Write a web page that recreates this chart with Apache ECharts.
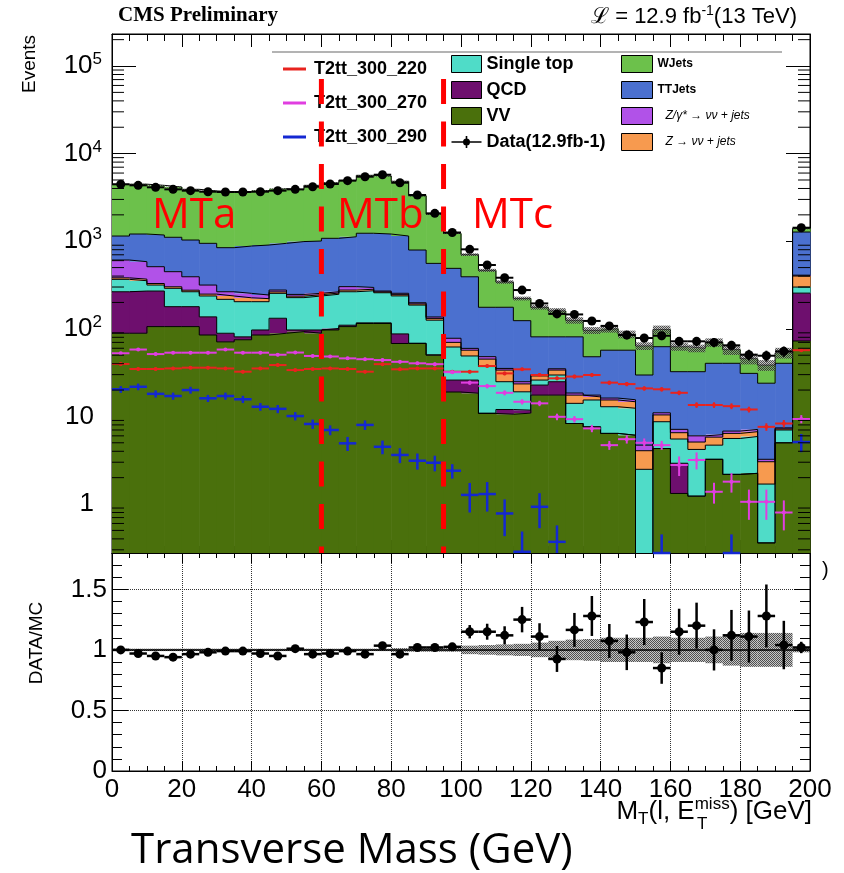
<!DOCTYPE html>
<html>
<head>
<meta charset="utf-8">
<script src="https://cdn.jsdelivr.net/npm/echarts@6.0.0/dist/echarts.min.js"></script>
<style>
html,body{margin:0;padding:0;background:#ffffff;}
#chart{width:844px;height:873px;}
</style>
</head>
<body>
<div id="chart"></div>
<script>
// ---------------- data ----------------
const binWidth = 5;
const binLow = [0,5,10,15,20,25,30,35,40,45,50,55,60,65,70,75,80,85,90,95,
                100,105,110,115,120,125,130,135,140,145,150,155,160,165,170,175,180,185,190,195];

// stacked backgrounds (events per bin), bottom to top
const vv = [89,89,106,106,106,85,71,75,85,89, 93,89,97,106,115,115,68,68,50,19,
            18.4,10.8,10.6,10.9,17.5,17.5,8.3,7.6,6.4,6.1, 0.02,4.3,1.32,1.23,3.24,2.18,2.24,0.36,5.0,72.6];
const qcd = [176,181,164,73,73,52,18,6,12,43, 4,8,4,4,2,2,19.5,0.5,0.5,7,
             7.6,0.1,1.4,0.9,5.3,7.4,0,0,0,0, 0,0,1.6,0,0,0,0,0,0,183];
const singleTop = [102,84,46,111,86,100,128,123,107,122, 130,140,147,155,155,141,150,118,75,36,
                   23,26.2,12.9,7.3,3.2,4.8,5.8,7.8,6.5,6.3, 2.47,4.4,2.6,2.97,1.46,3.42,3.66,1.33,2.0,44];
const zNuNu = [15,15,13,12,11,12,20,22,17,10, 9,8,8,12,11,6,8,6,6,8,
               8,8,8.9,4.4,3,4.1,3.4,1.3,2.5,2.3, 1.57,1.7,1.0,0.9,1.1,0.8,0.8,1.35,0.2,101];
const zGamma = [228,215,183,147,117,67,28,28,22,13, 11,9,9,26,14,6,9,6,5,8,
                2.8,3,1.5,1.4,1,1.2,1.0,0.8,0.8,0.8, 0.64,0.6,0.6,0.9,0.4,0.4,0.4,0.2,0.2,9];
const ttJets = [536,624,665,660,639,630,579,627,662,669, 744,751,814,822,936,938,892,595,422,412,
                333,128,141,99,51,46,62.5,30.5,40.8,41.5, 25,51.5,25.3,26.4,34.2,33.6,23.9,20.7,33,864];
const wJets = [3319,3271,3165,3051,2880,2804,2838,2801,2884,3028, 2884,3337,3558,3835,4417,4343,3678,2508,1480,736,
               310,289,166,98,95,79,44,48,43.5,29.7, 34,35.5,30,27.6,29.6,17.5,14.6,14.6,12.8,124];
// relative MC uncertainty (hatched band)
const mcUnc = [0.01,0.01,0.01,0.01,0.01,0.01,0.01,0.01,0.01,0.01, 0.01,0.01,0.01,0.01,0.01,0.01,0.015,0.015,0.015,0.015,
               0.035,0.04,0.045,0.05,0.06,0.075,0.085,0.09,0.1,0.1, 0.1,0.11,0.1,0.1,0.11,0.13,0.14,0.14,0.14,0.02];

// data
const dataVals = [4465,4345,4125,3910,3775,3675,3645,3645,3675,3775, 3910,4190,4498,4910,5450,5745,4655,3368,2080,1257,
                  808,535,383,277,195,148,146,123,108,85, 78.5,83.4,72,72,70,64.8,50.6,49.3,55.3,1426];
const dataErr = [67,66,64,63,61,61,60,60,61,61, 63,65,67,70,74,76,68,58,46,35,
                 28,23,20,17,14,12,12,11,10,9.2, 8.9,9.1,8.5,8.5,8.4,8,7.1,7,7.4,38];

// signals
const sigRed = [39.7,34.8,34.8,35.3,36,36,35.3,32.4,35.3,38.6, 33.8,34.8,35.3,34.8,32.4,39.5,34.5,35.3,35.3,32.4,
                32.4,37.6,31,34.5,29.7,27.2,28.5,29.7,24.3,23.4, 20.9,20.4,18.6,13.5,13.5,13.1,12,7.6,8.3,57];
const sigRedErr = [1.6,1.5,1.5,1.5,1.5,1.5,1.5,1.4,1.5,1.6, 1.5,1.5,1.5,1.5,1.4,1.6,1.5,1.5,1.5,1.4,
                   1.4,1.5,1.4,1.5,1.4,1.3,1.4,1.4,1.3,1.3, 1.2,1.2,1.1,1.0,1.0,1.0,0.9,0.75,0.8,2.0];
const sigMag = [52.6,58,51.5,53.4,53.4,53.4,58,53.4,53.4,50.6, 53.6,49,48.3,46,45,44,42,40.4,39.5,32,
                24.3,22.2,18.6,14.7,14.1,9.9,9.3,7.3,4.7,5.5, 5.0,4.7,2.79,3.18,1.38,1.8,1.06,1.06,0.8,9.35];
const sigMagErr = [2,2,2,2,2,2,2,2,2,2, 2,1.9,1.9,1.8,1.8,1.8,1.7,1.7,1.7,1.5,
                   1.3,1.3,1.2,1.0,1.0,0.85,0.8,0.7,0.55,0.6, 0.6,0.55,0.7,0.7,0.37,0.45,0.4,0.4,0.3,1.0];
const sigBlue = [20.4,21.8,18.1,17.1,20,16.1,17.1,15.7,12.9,12.2, 10.1,8.2,7.0,4.93,8.0,4.5,3.63,3.12,2.96,2.4,
                 1.27,1.3,0.78,0.285,0.93,0.37,0,0,0,0, 0,0.27,0,0,0,0.27,0,0,0,5.1];
const sigBlueErr = [1.8,1.9,1.7,1.6,1.8,1.5,1.6,1.5,1.3,1.3, 1.1,1.0,0.9,0.9,1.0,0.8,0.7,0.65,0.6,0.45,
                    0.47,0.48,0.35,0.2,0.4,0.2,0,0,0,0, 0,0.18,0,0,0,0.18,0,0,0,1.2];

// ratio panel
const ratio = [1.00,0.97,0.95,0.94,0.965,0.98,0.99,0.99,0.97,0.95, 1.01,0.965,0.97,0.99,0.965,1.035,0.965,1.02,1.02,1.025,
               1.15,1.15,1.12,1.25,1.11,0.925,1.165,1.28,1.074,0.98, 1.23,0.85,1.15,1.20,1.00,1.12,1.11,1.28,1.04,1.02];
const ratioErr = [0.015,0.015,0.016,0.016,0.016,0.017,0.017,0.017,0.017,0.016, 0.016,0.016,0.015,0.015,0.014,0.014,0.015,0.018,0.022,0.03,
                  0.055,0.066,0.075,0.105,0.11,0.107,0.14,0.165,0.14,0.147, 0.19,0.13,0.19,0.19,0.17,0.21,0.215,0.26,0.2,0.047];

// region boundaries (GeV) and labels
const regionCuts = [60, 95];
const regionLabels = ['MTa', 'MTb', 'MTc'];

// ---------------- helpers ----------------
const F = 'Liberation Sans';
const xMax = binLow[binLow.length - 1] + binWidth;
const yMinTop = 0.276, yMaxTop = 232000, cutTop = 71000;

function stepData(arr) {
  const d = binLow.map((x, i) => [x, arr[i]]);
  d.push([xMax, arr[arr.length - 1]]);
  return d;
}

const hatchCanvas = (function () {
  const c = document.createElement('canvas');
  c.width = 4; c.height = 4;
  const g = c.getContext('2d');
  for (let y = 0; y < 4; y++) for (let x = 0; x < 4; x++) {
    g.fillStyle = ((x + y) % 2 === 0) ? 'rgba(35,35,35,0.8)' : 'rgba(150,150,150,0.55)';
    g.fillRect(x, y, 1, 1);
  }
  return c;
})();
const hatchFill = { type: 'pattern', image: hatchCanvas, repeat: 'repeat' };

function crossRenderer(color, lineW, markerR) {
  return function (params, api) {
    const cs = params.coordSys;
    const top = cs.y, bot = cs.y + cs.height;
    const clampY = y => Math.min(bot, Math.max(top, y));
    const xc = api.value(0), v = api.value(1), e = api.value(2);
    const pc = api.coord([xc, v]);
    const xl = api.coord([xc - binWidth / 2, v])[0];
    const xr = api.coord([xc + binWidth / 2, v])[0];
    const yHi = api.coord([xc, v + e])[1];
    const yLo = (v - e) > 0 ? api.coord([xc, v - e])[1] : bot;
    const yc = clampY(pc[1]);
    const ch = [];
    ch.push({ type: 'line', shape: { x1: xl, y1: yc, x2: xr, y2: yc }, style: { stroke: color, lineWidth: lineW } });
    if (e > 0) ch.push({ type: 'line', shape: { x1: pc[0], y1: clampY(yHi), x2: pc[0], y2: clampY(yLo) }, style: { stroke: color, lineWidth: lineW } });
    if (markerR && pc[1] <= bot) ch.push({ type: 'circle', shape: { cx: pc[0], cy: yc, r: markerR }, style: { fill: color } });
    return { type: 'group', children: ch };
  };
}

function bandRenderer(params, api) {
  const cs = params.coordSys;
  const x0 = api.value(0), c = api.value(1), b = api.value(2);
  const p1 = api.coord([x0, c * (1 + b)]);
  const p2 = api.coord([x0 + binWidth, c * (1 - b)]);
  const y1 = Math.max(cs.y, p1[1]), y2 = Math.min(cs.y + cs.height, p2[1]);
  return { type: 'rect', shape: { x: p1[0], y: y1, width: p2[0] - p1[0], height: Math.max(0.8, y2 - y1) }, style: { fill: hatchFill } };
}

// filled histogram block between cumulative lower and upper values of one component
function fillRenderer(color) {
  return function (params, api) {
    const cs = params.coordSys;
    const x0 = api.value(0), lo = api.value(1), hi = api.value(2);
    if (!(hi > 0)) return null;
    const pHi = api.coord([x0, hi]);
    const pLo = api.coord([x0 + binWidth, Math.max(lo, 1e-4)]);
    const y1 = Math.max(cs.y, pHi[1]);
    const y2 = Math.min(cs.y + cs.height, pLo[1]);
    if (y2 - y1 <= 0) return null;
    return { type: 'rect', shape: { x: pHi[0], y: y1, width: pLo[0] - pHi[0] + 0.6, height: y2 - y1 }, style: { fill: color } };
  };
}

const logMinorTicks = [];
for (let p = -1; p <= 5; p++) for (let m = 2; m <= 9; m++) logMinorTicks.push([100, m * Math.pow(10, p)]);

function minorTickRenderer(params, api) {
  const cs = params.coordSys;
  const y = api.coord([api.value(0), api.value(1)])[1];
  if (y < cs.y || y > cs.y + cs.height) return null;
  return { type: 'group', children: [
    { type: 'line', shape: { x1: cs.x, y1: y, x2: cs.x + 12, y2: y }, style: { stroke: '#000', lineWidth: 1 } },
    { type: 'line', shape: { x1: cs.x + cs.width - 12, y1: y, x2: cs.x + cs.width, y2: y }, style: { stroke: '#000', lineWidth: 1 } }
  ] };
}

// ---------------- series ----------------
const stackDefs = [
  { name: 'VV', vals: vv, color: '#4a700c' },
  { name: 'QCD', vals: qcd, color: '#6e0f6e' },
  { name: 'Single top', vals: singleTop, color: '#4fdcc8' },
  { name: 'Z → νν + jets', vals: zNuNu, color: '#f79a4f' },
  { name: 'Z/γ* → νν + jets', vals: zGamma, color: '#b152e8' },
  { name: 'TTJets', vals: ttJets, color: '#4b70cf' },
  { name: 'WJets', vals: wJets, color: '#6cc14b' }
];
const colorOf = {};
stackDefs.forEach(d => colorOf[d.name] = d.color);

// stacking (cumulative sums of the components, bottom to top)
let running = binLow.map(() => 0);
stackDefs.forEach(d => {
  d.lo = running.slice();
  d.hi = running.map((v, i) => v + d.vals[i]);
  running = d.hi;
});
const mcTotal = running;

const series = [];
stackDefs.forEach(d => {
  series.push({
    type: 'custom', name: d.name, xAxisIndex: 0, yAxisIndex: 0, silent: true, z: 2,
    itemStyle: { color: d.color },
    renderItem: fillRenderer(d.color),
    data: binLow.map((x, i) => [x, d.lo[i], d.hi[i]])
  });
});
stackDefs.forEach(d => {
  series.push({
    type: 'line', name: d.name + ' outline', xAxisIndex: 0, yAxisIndex: 0, step: 'end',
    data: stepData(d.hi), symbol: 'none', showSymbol: false, silent: true,
    lineStyle: { width: 1, color: '#000' }, z: 3
  });
});
series.push({
  type: 'custom', name: 'MC uncertainty', xAxisIndex: 0, yAxisIndex: 0, silent: true, z: 4,
  renderItem: bandRenderer, data: binLow.map((x, i) => [x, mcTotal[i], mcUnc[i]])
});
const sigDefs = [
  { name: 'T2tt_300_220', vals: sigRed, err: sigRedErr, color: '#e8231e', w: 2, r: 2 },
  { name: 'T2tt_300_270', vals: sigMag, err: sigMagErr, color: '#e03ee0', w: 2, r: 2 },
  { name: 'T2tt_300_290', vals: sigBlue, err: sigBlueErr, color: '#1428d2', w: 2.5, r: 0 }
];
sigDefs.forEach(s => {
  series.push({
    type: 'custom', name: s.name, xAxisIndex: 0, yAxisIndex: 0, silent: true, z: 5,
    itemStyle: { color: s.color },
    renderItem: crossRenderer(s.color, s.w, s.r),
    data: binLow.map((x, i) => [x + binWidth / 2, s.vals[i], s.err[i]]).filter(p => p[1] > 0)
  });
});
series.push({
  type: 'custom', name: 'Data(12.9fb-1)', xAxisIndex: 0, yAxisIndex: 0, silent: true, z: 6,
  itemStyle: { color: '#000' },
  renderItem: crossRenderer('#000', 2, 4.5),
  data: binLow.map((x, i) => [x + binWidth / 2, dataVals[i], dataErr[i]])
});
series.push({
  type: 'custom', name: 'log minor ticks', xAxisIndex: 0, yAxisIndex: 0, silent: true, z: 7,
  renderItem: minorTickRenderer, data: logMinorTicks
});
regionCuts.forEach((c, k) => {
  series.push({
    type: 'line', name: 'cut' + k, xAxisIndex: 0, yAxisIndex: 0, silent: true, z: 20,
    data: [[c, cutTop], [c, yMinTop]], symbol: 'none',
    lineStyle: { color: '#ff0000', width: 5, type: [25, 17.5], cap: 'butt' }
  });
});
// ratio panel
series.push({
  type: 'custom', name: 'ratio band', xAxisIndex: 2, yAxisIndex: 2, silent: true, z: 3,
  renderItem: bandRenderer, data: binLow.map((x, i) => [x, 1, mcUnc[i]])
});
series.push({
  type: 'line', name: 'unity', xAxisIndex: 2, yAxisIndex: 2, silent: true, z: 4,
  data: [[0, 1], [xMax, 1]], symbol: 'none', lineStyle: { color: '#000', width: 1.5 }
});
series.push({
  type: 'custom', name: 'ratio points', xAxisIndex: 2, yAxisIndex: 2, silent: true, z: 5,
  renderItem: crossRenderer('#000', 2.5, 4.5),
  data: binLow.map((x, i) => [x + binWidth / 2, ratio[i], ratioErr[i]])
});

// ---------------- axes ----------------
const black = { color: '#000', width: 1 };
function xAx(grid, pos, showLabel, majorLen, minorLen, split) {
  return {
    gridIndex: grid, type: 'value', min: 0, max: xMax, interval: 20, position: pos,
    axisLine: { show: true, onZero: false, lineStyle: black },
    axisTick: { show: true, inside: true, length: majorLen, lineStyle: black },
    minorTick: { show: true, splitNumber: 4, length: minorLen, lineStyle: black },
    axisLabel: { show: showLabel, fontSize: 26, fontFamily: F, color: '#000', margin: 6 },
    splitLine: { show: split, lineStyle: { type: 'dotted', color: '#333', width: 1 } }
  };
}
function logLabel(v) {
  const e = Math.log10(v), r = Math.round(e);
  if (Math.abs(e - r) > 1e-6) return '';
  if (r === 0) return '{b|1}{pad|}';
  if (r === 1) return '{b|10}{pad|}';
  return '{b|10}{s|' + r + '}';
}
function yLog(pos, showLabel) {
  return {
    gridIndex: 0, type: 'log', logBase: 10, min: yMinTop, max: yMaxTop, position: pos,
    axisLine: { show: true, onZero: false, lineStyle: black },
    axisTick: { show: true, inside: true, length: 24, lineStyle: black },
    minorTick: { show: false },
    splitLine: { show: false },
    axisLabel: {
      show: showLabel, margin: 10, formatter: logLabel,
      rich: {
        b: { fontSize: 26, fontFamily: F, color: '#000', lineHeight: 30 },
        s: { fontSize: 17, fontFamily: F, color: '#000', lineHeight: 16, verticalAlign: 'top' },
        pad: { width: 8 }
      }
    }
  };
}
function yRatio(pos, showLabel) {
  return {
    gridIndex: 1, type: 'value', min: 0, max: 1.8, interval: 0.5, position: pos,
    axisLine: { show: true, onZero: false, lineStyle: black },
    axisTick: { show: true, inside: true, length: 16, lineStyle: black },
    minorTick: { show: true, splitNumber: 5, length: 10, lineStyle: black },
    splitLine: { show: showLabel, lineStyle: { type: 'dotted', color: '#333', width: 1 } },
    axisLabel: { show: showLabel, fontSize: 26, fontFamily: F, color: '#000', margin: 5, showMaxLabel: false }
  };
}

// ---------------- legend ----------------
const legendCommon = { orient: 'vertical', padding: 0, selectedMode: false, align: 'left' };
const legends = [
  Object.assign({}, legendCommon, {
    left: 283, top: 59, itemWidth: 23, itemHeight: 3, itemGap: 14,
    textStyle: { fontFamily: F, fontWeight: 'bold', fontSize: 18, color: '#000', lineHeight: 20, padding: [0, 0, 0, 3] },
    data: sigDefs.map(s => ({ name: s.name, icon: 'rect', itemStyle: { color: s.color, borderWidth: 0 } }))
  }),
  Object.assign({}, legendCommon, {
    left: 451, top: 54, itemWidth: 30, itemHeight: 17, itemGap: 6,
    textStyle: { fontFamily: F, fontWeight: 'bold', fontSize: 18, color: '#000', lineHeight: 20 },
    data: [
      { name: 'Single top', icon: 'rect', itemStyle: { color: colorOf['Single top'], borderColor: '#000', borderWidth: 1 } },
      { name: 'QCD', icon: 'rect', itemStyle: { color: colorOf['QCD'], borderColor: '#000', borderWidth: 1 } },
      { name: 'VV', icon: 'rect', itemStyle: { color: colorOf['VV'], borderColor: '#000', borderWidth: 1 } },
      { name: 'Data(12.9fb-1)', icon: 'path://M0,9.2L30,9.2L30,10.8L0,10.8Z M14.2,4L15.8,4L15.8,16L14.2,16Z M11.5,10A3.5,3.5 0 1 1 18.5,10A3.5,3.5 0 1 1 11.5,10Z', itemStyle: { color: '#000', borderWidth: 0 } }
    ]
  }),
  Object.assign({}, legendCommon, {
    left: 621, top: 54, itemWidth: 31, itemHeight: 17, itemGap: 6,
    textStyle: { fontFamily: F, fontWeight: 'bold', fontSize: 12, color: '#000', lineHeight: 20 },
    data: [
      { name: 'WJets', icon: 'rect', itemStyle: { color: colorOf['WJets'], borderColor: '#000', borderWidth: 1 } },
      { name: 'TTJets', icon: 'rect', itemStyle: { color: colorOf['TTJets'], borderColor: '#000', borderWidth: 1 } },
      { name: 'Z/γ* → νν + jets', icon: 'rect', itemStyle: { color: colorOf['Z/γ* → νν + jets'], borderColor: '#000', borderWidth: 1 },
        textStyle: { fontStyle: 'italic', fontWeight: 'normal', fontSize: 12, padding: [0, 0, 0, 8] } },
      { name: 'Z → νν + jets', icon: 'rect', itemStyle: { color: colorOf['Z → νν + jets'], borderColor: '#000', borderWidth: 1 },
        textStyle: { fontStyle: 'italic', fontWeight: 'normal', fontSize: 12, padding: [0, 0, 0, 8] } }
    ]
  })
];

// ---------------- texts ----------------
const graphics = [
  { type: 'line', z: 1, shape: { x1: 272, y1: 52, x2: 782, y2: 52 }, style: { stroke: '#9a9a9a', lineWidth: 1.5 } },
  { type: 'text', x: 118, y: 16, style: { text: 'CMS Preliminary', font: 'bold 21px "Liberation Serif"', fill: '#000', verticalAlign: 'middle' } },
  { type: 'text', x: 797, y: 17, style: {
      text: '{a|ℒ = 12.9 fb}{s|-1}{a|(13 TeV)}', align: 'right', verticalAlign: 'middle',
      rich: { a: { fontSize: 22, fontFamily: F, fill: '#000', color: '#000', lineHeight: 26 },
              s: { fontSize: 14, fontFamily: F, fill: '#000', color: '#000', lineHeight: 14, verticalAlign: 'top' } } } },
  { type: 'text', x: 30, y: 64, rotation: Math.PI / 2, style: { text: 'Events', font: '19px "Liberation Sans"', fill: '#000', align: 'center', verticalAlign: 'middle' } },
  { type: 'text', x: 37, y: 643, rotation: Math.PI / 2, style: { text: 'DATA/MC', font: '19px "Liberation Sans"', fill: '#000', align: 'center', verticalAlign: 'middle' } },
  { type: 'text', x: 812, y: 812, style: {
      text: '{n|M}{sb|T}{n|(l, E}{sp|miss}{n|) [GeV]}', align: 'right', verticalAlign: 'middle',
      rich: { n: { fontSize: 26, fontFamily: F, fill: '#000', color: '#000', lineHeight: 32 },
              sb: { fontSize: 17, fontFamily: F, fill: '#000', color: '#000', lineHeight: 16, verticalAlign: 'bottom' },
              sp: { fontSize: 17, fontFamily: F, fill: '#000', color: '#000', lineHeight: 16, verticalAlign: 'top' } } } },
  { type: 'text', x: 697, y: 824, style: { text: 'T', font: '17px "Liberation Sans"', fill: '#000', verticalAlign: 'middle' } },
  { type: 'text', x: 131, y: 851, style: { text: 'Transverse Mass (GeV)', font: '42px "Open Sans"', fill: '#000', verticalAlign: 'middle' } },
  { type: 'text', x: 822, y: 570, style: { text: ')', font: '20px "Liberation Sans"', fill: '#000', verticalAlign: 'middle' } },
  { type: 'text', z: 100, x: 152, y: 216, style: { text: regionLabels[0], font: '42px "Open Sans"', fill: '#ff0000', verticalAlign: 'middle' } },
  { type: 'text', z: 100, x: 337, y: 216, style: { text: regionLabels[1], font: '42px "Open Sans"', fill: '#ff0000', verticalAlign: 'middle' } },
  { type: 'text', z: 100, x: 472, y: 216, style: { text: regionLabels[2], font: '42px "Open Sans"', fill: '#ff0000', verticalAlign: 'middle' } }
];

const option = {
  animation: false,
  backgroundColor: '#ffffff',
  grid: [
    { left: 112, top: 34, width: 698, height: 519, show: true, borderColor: '#000', borderWidth: 1, backgroundColor: 'rgba(0,0,0,0)', containLabel: false, outerBoundsMode: 'none' },
    { left: 112, top: 553, width: 698, height: 218, show: true, borderColor: '#000', borderWidth: 1, backgroundColor: 'rgba(0,0,0,0)', containLabel: false, outerBoundsMode: 'none' }
  ],
  xAxis: [
    xAx(0, 'bottom', false, 13, 7, false),
    xAx(0, 'top', false, 13, 7, false),
    xAx(1, 'bottom', true, 10, 5, true),
    xAx(1, 'top', false, 10, 5, false)
  ],
  yAxis: [ yLog('left', true), yLog('right', false), yRatio('left', true), yRatio('right', false) ],
  legend: legends,
  graphic: graphics,
  series: series
};

const chart = echarts.init(document.getElementById('chart'), null, { renderer: 'canvas', width: 844, height: 873 });
chart.setOption(option);
</script>
</body>
</html>
